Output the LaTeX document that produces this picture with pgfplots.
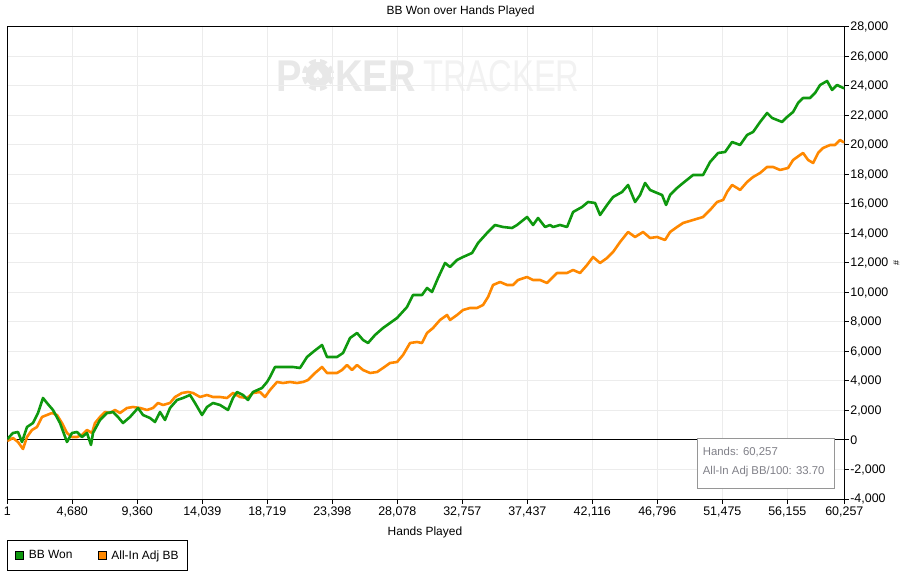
\documentclass[border=0pt]{standalone}
\usepackage{pgfplots}
\pgfplotsset{compat=1.18}
\usepackage{fontspec}
\setmainfont{Liberation Sans}
\newfontfamily\djv{DejaVu Sans}
\definecolor{bbgreen}{RGB}{14,152,14}
\definecolor{bborange}{RGB}{255,136,0}
\definecolor{gridgray}{RGB}{236,236,236}
\definecolor{boxgray}{RGB}{150,150,150}
\definecolor{boxtext}{RGB}{128,128,136}
\begin{document}
\begin{tikzpicture}
\path[use as bounding box] (0,0) rectangle (902bp,583bp);
% watermark
\node[anchor=base west, inner sep=0, text=black!9, font=\fontsize{44.7}{46}\selectfont\bfseries] at (276.7bp,491bp) {\scalebox{0.855}[1]{P}};
\fill[black!9] (318bp,508bp) circle (16bp);
\foreach \a in {0,45,...,315} {
  \fill[white, rotate around={\a:(318bp,508bp)}] (315.8bp,520.5bp) rectangle (320.2bp,524.5bp);
}
\node[inner sep=0, text=white, font=\djv\fontsize{15}{16}\selectfont] at (318bp,508bp) {♠};
\node[anchor=base west, inner sep=0, text=black!9, font=\fontsize{44.7}{46}\selectfont\bfseries] at (335bp,491bp) {\scalebox{0.855}[1]{KER}};
\node[anchor=base west, inner sep=0, text=black!5, font=\fontsize{44.7}{46}\selectfont] at (423bp,491bp) {\scalebox{0.735}[1]{TRACKER}};
\begin{axis}[
  at={(7.3bp,84bp)}, anchor=south west,
  scale only axis, width=837bp, height=472bp,
  xmin=1, xmax=60257, ymin=-4000, ymax=28000,
  scaled x ticks=false, scaled y ticks=false,
  xtick={1,4680,9360,14039,18719,23398,28078,32757,37437,42116,46796,51475,56155,60257},
  xticklabels={1,{4,680},{9,360},{14,039},{18,719},{23,398},{28,078},{32,757},{37,437},{42,116},{46,796},{51,475},{56,155},{60,257}},
  ytick={-4000,-2000,0,2000,4000,6000,8000,10000,12000,14000,16000,18000,20000,22000,24000,26000,28000},
  yticklabels={{-4,000},{-2,000},0,{2,000},{4,000},{6,000},{8,000},{10,000},{12,000},{14,000},{16,000},{18,000},{20,000},{22,000},{24,000},{26,000},{28,000}},
  xtick pos=bottom, ytick pos=right, yticklabel pos=right,
  tick align=outside, major tick length=4.5bp,
  tick style={black, line width=1bp},
  axis line style={black, line width=1bp},
  grid=major, major grid style={gridgray, line width=1bp},
  ticklabel style={font=\fontsize{12.5}{14}\selectfont},
  yticklabel style={xshift=-2bp},
  title={BB Won over Hands Played},
  title style={at={(axis description cs:0.5415,1.021)}, anchor=center, font=\fontsize{12}{14}\selectfont},
  xlabel={Hands Played},
  xlabel style={at={(axis description cs:0.499,-0.0699)}, anchor=center, font=\fontsize{12}{14}\selectfont},
  ylabel={\#},
  ylabel style={at={(axis description cs:1.062,0.5)}, anchor=center, font=\fontsize{9}{10}\selectfont},
  legend columns=2,
  legend style={at={(axis description cs:0,-0.0869)}, anchor=north west, draw=black, line width=1bp,
    font=\fontsize{12}{14}\selectfont, inner xsep=2bp, inner ysep=9bp,
    nodes={inner xsep=1bp, inner ysep=1bp},
    /tikz/every even column/.append style={column sep=19bp}},
  legend cell align=left,
]
\addlegendimage{legend image code/.code={\path[draw=none,fill=none] (-6bp,0) -- (12bp,0); \filldraw[fill=bbgreen,draw=black,line width=0.9bp] (0bp,-4bp) rectangle (8bp,4bp);}}
\addlegendentry{BB Won}
\addlegendimage{legend image code/.code={\path[draw=none,fill=none] (-6bp,0) -- (12bp,0); \filldraw[fill=bborange,draw=black,line width=0.9bp] (0bp,-4bp) rectangle (8bp,4bp);}}
\addlegendentry{All-In Adj BB\hspace*{6bp}\mbox{}}
\addplot[black, line width=1bp, forget plot] coordinates {(1,0) (60257,0)};
% All-In Adj BB
\addplot[bborange, line width=2.6bp, line join=round, forget plot] coordinates {
(1,-68) (410,136) (770,-136) (1130,-610) (1418,203) (1778,678) (2138,881) (2498,1559) (2858,1695) (3218,1831)
(3578,1695) (3938,1153) (4298,475) (4658,203) (5018,203) (5378,339) (5738,678) (6098,475) (6314,1153) (6674,1559)
(7034,1898) (7394,1831) (7754,2034) (8114,1831) (8618,2170) (9050,2237) (9554,2170) (10058,2034) (10490,2170) (10850,2509)
(11210,2373) (11714,2509) (12074,2915) (12578,3187) (13010,3254) (13370,3187) (13874,2915) (14378,3051) (14810,2915) (15314,2915)
(15818,2848) (16250,3187) (16754,2915) (17258,2848) (17690,3187) (18194,3254) (18554,2915) (18914,3390) (19418,3932) (19850,3865)
(20354,3932) (20858,3865) (21290,3932) (21650,4068) (22154,4543) (22658,4949) (23018,4543) (23738,4543) (24098,4746) (24458,5085)
(24818,4746) (25178,5085) (25610,4746) (26114,4543) (26618,4610) (27050,4882) (27554,5221) (28058,5288) (28490,5763) (28994,6577)
(29498,6644) (29858,6577) (30218,7255) (30650,7594) (31154,8136) (31658,8475) (31874,8136) (32378,8475) (32810,8814) (33314,8950)
(33818,8950) (34250,9153) (34610,9695) (34970,10509) (35474,10712) (35978,10509) (36410,10509) (36770,10848) (37418,11051) (37850,10848)
(38354,10848) (38858,10645) (39578,11323) (40298,11323) (40730,11526) (41234,11323) (41738,11865) (42170,12407) (42674,12001) (43178,12340)
(43610,12746) (44114,13424) (44690,14102) (45194,13763) (45770,14102) (46274,13696) (46778,13763) (47354,13560) (47714,14102) (48218,14441)
(48650,14713) (49370,14916) (50090,15119) (50594,15594) (51098,16136) (51530,16272) (51818,16814) (52178,17289) (52538,17086) (52754,16950)
(53258,17492) (53690,17831) (54194,18103) (54698,18509) (55130,18509) (55634,18306) (56210,18442) (56570,18984) (57074,19323) (57290,19459)
(57650,18984) (58010,18780) (58370,19459) (58730,19798) (59234,20001) (59594,20001) (59954,20340) (60170,20204) (60257,20204)
};
% BB Won
\addplot[bbgreen, line width=2.6bp, line join=round, forget plot] coordinates {
(1,68) (410,475) (770,542) (1058,-136) (1418,881) (1850,1153) (2210,1831) (2570,2848) (2858,2509) (3290,2034)
(3794,1153) (4298,-136) (4658,475) (5018,542) (5378,203) (5738,475) (6026,-339) (6170,475) (6674,1356) (7178,1831)
(7610,1898) (7970,1559) (8330,1153) (8834,1559) (9410,2170) (9770,1695) (10274,1492) (10634,1220) (10994,1898) (11354,1356)
(11714,2170) (12218,2712) (12650,2848) (13154,3051) (13514,2509) (14018,1695) (14378,2237) (14810,2509) (15314,2373) (15890,2034)
(16250,2848) (16538,3254) (16970,3051) (17330,2712) (17690,3254) (18338,3526) (18698,3932) (18914,4271) (19274,4949) (19850,4949)
(20570,4949) (21074,4882) (21578,5627) (22010,5966) (22658,6441) (23018,5627) (23738,5627) (24170,5899) (24674,6916) (25178,7255)
(25610,6780) (25970,6577) (26474,7119) (27050,7594) (27554,7933) (28058,8272) (28778,9017) (29210,9831) (29858,9831) (30218,10306)
(30578,10034) (31010,10984) (31514,12001) (31874,11729) (32378,12204) (32810,12407) (33458,12679) (33890,13357) (34538,14035) (35114,14577)
(35690,14441) (36338,14374) (36698,14577) (37418,15119) (37850,14577) (38210,15052) (38714,14441) (39074,14577) (39290,14441) (39794,14577)
(40298,14441) (40730,15458) (41378,15797) (41810,16136) (42314,16069) (42674,15255) (43178,15933) (43610,16475) (44258,16814) (44690,17289)
(45194,16136) (45554,16611) (45914,17425) (46274,16950) (46778,16747) (47138,16611) (47426,15933) (47714,16611) (48218,17086) (48650,17425)
(49370,17967) (50090,17967) (50594,18848) (51170,19459) (51674,19526) (52178,20204) (52754,20001) (53258,20679) (53690,20882) (54194,21560)
(54698,22171) (55058,21832) (55418,21696) (55778,21560) (56138,21899) (56570,22238) (56930,22849) (57290,23188) (57794,23188) (58154,23527)
(58514,24069) (59018,24340) (59378,23730) (59738,24069) (60170,23866) (60257,23866)
};
\end{axis}
% info box
\draw[boxgray, line width=1bp, fill=white] (697.3bp,94.7bp) rectangle (834.3bp,144bp);
\node[anchor=west, inner sep=0, text=boxtext, font=\fontsize{11.4}{13}\selectfont] at (702.7bp,130.7bp) {Hands: 60,257};
\node[anchor=west, inner sep=0, text=boxtext, font=\fontsize{11.4}{13}\selectfont] at (702.7bp,111.3bp) {All-In Adj BB/100: 33.70};
\end{tikzpicture}
\end{document}
